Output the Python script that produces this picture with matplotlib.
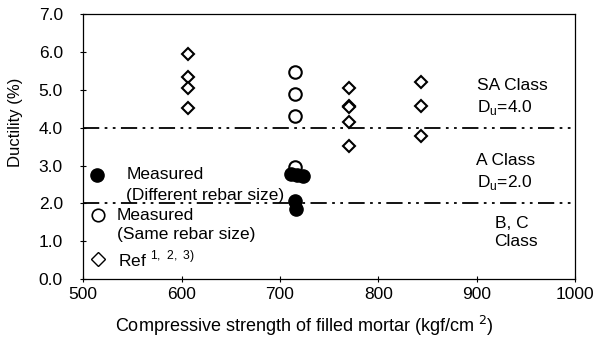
import matplotlib.pyplot as plt

plt.rcParams['font.family'] = ['Liberation Sans', 'DejaVu Sans']

# 측정값 (다른 철근 크기)
diff_x = [711, 717, 723, 715, 716]
diff_y = [2.77, 2.75, 2.72, 2.06, 1.84]

# 측정값 (같은 철근 크기)
same_x = [715, 715, 715, 715]
same_y = [5.47, 4.88, 4.31, 2.95]

# 참고문헌 값
ref_x = [607, 607, 607, 607, 770, 770, 770, 770, 770, 843, 843, 843]
ref_y = [5.95, 5.33, 5.05, 4.51, 5.04, 4.57, 4.55, 4.14, 3.52, 5.22, 4.58, 3.78]

class_limits = [4.0, 2.0]

fig = plt.figure(figsize=(5.98, 3.37), dpi=100)
ax = fig.add_axes([0.139, 0.172, 0.823, 0.786])

dashdot = (0, (9, 3, 1.5, 3, 1.5, 3))
for lim in class_limits:
    ax.axhline(lim, color='black', lw=1.3, linestyle=dashdot, zorder=1)

ax.plot(ref_x, ref_y, linestyle='none', marker='D', markersize=6.5,
        markerfacecolor='white', markeredgecolor='black', markeredgewidth=1.5, zorder=3)
ax.plot(same_x, same_y, linestyle='none', marker='o', markersize=9,
        markerfacecolor='white', markeredgecolor='black', markeredgewidth=1.5, zorder=3)
ax.plot(diff_x, diff_y, linestyle='none', marker='o', markersize=9.5,
        markerfacecolor='black', markeredgecolor='black', zorder=4)

ax.set_xlim(500, 1000)
ax.set_ylim(0, 7)
ax.set_xticks([500, 600, 700, 800, 900, 1000])
ax.set_yticks([0, 1, 2, 3, 4, 5, 6, 7])
ax.set_yticklabels(['%.1f' % v for v in range(8)])
ax.tick_params(labelsize=12.5, direction='inout', length=5, width=0.8)
ax.tick_params(axis='x', pad=3)
ax.tick_params(axis='y', pad=12)
for sp in ax.spines.values():
    sp.set_linewidth(0.9)

ax.set_xlabel('Compressive strength of filled mortar (kgf/cm $^{2}$)', fontsize=13)
ax.xaxis.set_label_coords(0.449, -0.133)
ax.set_ylabel('Ductility (%)', fontsize=12)
ax.yaxis.set_label_coords(-0.122, 0.59)

# 등급 표시
fs = 12.5
ax.text(900, 5.12, 'SA Class', fontsize=fs, va='center')
ax.text(900, 4.52, 'D$_{\\mathregular{u}}$=4.0', fontsize=fs, va='center')
ax.text(899, 3.12, 'A Class', fontsize=fs, va='center')
ax.text(900, 2.56, 'D$_{\\mathregular{u}}$=2.0', fontsize=fs, va='center')
ax.text(918, 1.48, 'B, C', fontsize=fs, va='center')
ax.text(918, 1.0, 'Class', fontsize=fs, va='center')

# 범례 (직접 배치)
ax.plot([514], [2.74], marker='o', markersize=9.5, color='black')
ax.text(544, 2.75, 'Measured', fontsize=fs, va='center')
ax.text(544, 2.22, '(Different rebar size)', fontsize=fs, va='center')
ax.plot([515], [1.69], marker='o', markersize=9, markerfacecolor='white',
        markeredgecolor='black', markeredgewidth=1.2)
ax.text(534.5, 1.69, 'Measured', fontsize=fs, va='center')
ax.text(534.5, 1.19, '(Same rebar size)', fontsize=fs, va='center')
ax.plot([515], [0.53], marker='D', markersize=7, markerfacecolor='white',
        markeredgecolor='black', markeredgewidth=1.0)
ax.text(535, 0.53, 'Ref $^{\\mathregular{1,\\ 2,\\ 3)}}$', fontsize=fs, va='center')

fig.savefig('out.png', dpi=100)
